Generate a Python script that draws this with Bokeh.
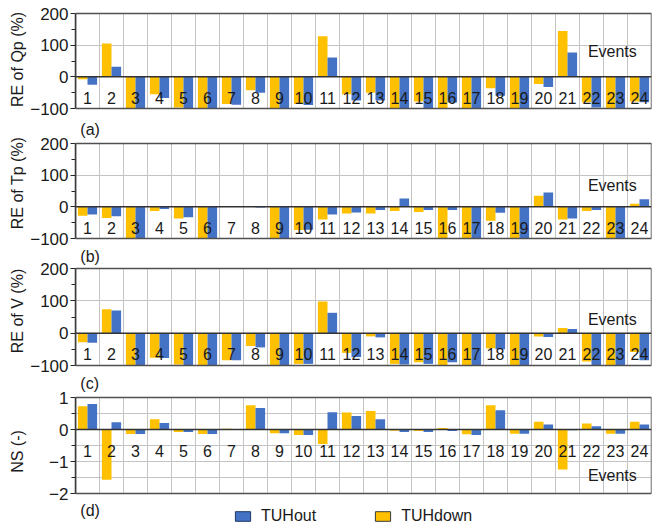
from bokeh.plotting import figure
from bokeh.layouts import column
from bokeh.models import (FixedTicker, Label, Legend, LegendItem, Span,
                          ColumnDataSource, BoxAnnotation, Range1d)
from bokeh.transform import dodge
from bokeh.core.properties import value
from bokeh.embed import file_html
from bokeh.resources import INLINE

# ---------------- data ----------------
events = list(range(1, 25))
event_labels = [str(e) for e in events]

qp_down = [-8, 105, -100, -55, -97, -100, -86, -42, -100, -86, 128, -55,
           -50, -100, -78, -100, -100, -36, -100, -23, 145, -80, -100, -78]
qp_out = [-25, 32, -100, -67, -100, -100, -88, -50, -100, -89, 61, -75,
          -75, -100, -100, -81, -100, -60, -100, -32, 77, -97, -100, -80]

tp_down = [-28, -35, -100, -13, -37, -100, 0, 0, -100, -73, -40, -21,
           -21, -13, -16, -100, -100, -44, -100, 35, -40, -13, -100, 10]
tp_out = [-24, -30, -100, -7, -33, -100, 3, -2, -100, -72, -24, -18,
          -10, 26, -10, -10, -100, -19, -100, 45, -37, -10, -100, 24]

v_down = [-28, 74, -100, -76, -97, -100, -84, -40, -100, -95, 98, -61,
          -10, -95, -90, -100, -100, -47, -100, -10, 16, -88, -100, -58]
v_out = [-30, 70, -100, -77, -100, -100, -84, -44, -100, -95, 63, -74,
         -13, -97, -95, -90, -100, -50, -100, -12, 13, -100, -100, -84]

ns_down = [0.73, -1.57, -0.14, 0.32, -0.08, -0.14, 0.02, 0.76, -0.12, -0.17, -0.45, 0.53,
           0.58, -0.04, -0.05, 0.05, -0.15, 0.76, -0.13, 0.24, -1.25, 0.19, -0.13, 0.24]
ns_out = [0.80, 0.23, -0.14, 0.20, -0.08, -0.14, 0.00, 0.67, -0.12, -0.17, 0.54, 0.42,
          0.32, -0.08, -0.08, -0.05, -0.17, 0.60, -0.13, 0.16, -0.02, 0.10, -0.13, 0.16]

series_names = ["TUHout", "TUHdown"]
panel_tags = ["(a)", "(b)", "(c)", "(d)"]
y_titles = ["RE of Qp (%)", "RE of Tp (%)", "RE of V (%)", "NS (-)"]
re_limits = (-100, 200)
re_ticks = [-100, 0, 100, 200]
re_minor = [-50, 50, 150]
re_grid = [100]
ns_limits = (-2, 1)
ns_ticks = [-2, -1, 0, 1]
ns_minor = [-1.5, -0.5, 0.5]
ns_grid = [-1.5, -1, -0.5, 0.5]

YELLOW = "#FFC000"
BLUE = "#4472C4"
GRID = "#C4C4C4"
BORDER = "#505050"
AXIS = "#262626"
TXT = "#1a1a1a"
FONT = "Liberation Sans"


def panel(down, out, limits, ytitle, ticks, minor, grid_ticks, canvas_top, canvas_h,
          box_top, box_bot, ev_page_y, tags_here, title_standoff):
    lo, hi = limits
    t, b = box_top - canvas_top, box_bot - canvas_top
    s = (hi - lo) / (b - t)

    def val(page_y):
        return hi - (page_y - box_top) * s

    p = figure(width=655, height=canvas_h, x_range=(0.5, 24.5),
               y_range=Range1d(lo - (canvas_h - b) * s, hi + t * s),
               output_backend="svg", toolbar_location=None, x_axis_location=None,
               min_border_left=75, min_border_right=4, min_border_top=0,
               min_border_bottom=0)
    p.outline_line_color = None
    p.xgrid.visible = False
    p.ygrid.ticker = FixedTicker(ticks=grid_ticks)
    p.ygrid.grid_line_color = GRID

    src = ColumnDataSource(dict(x=events, down=down, out=out, label=event_labels,
                                sep=[e + 0.5 for e in events], lo=[lo] * len(events),
                                hi=[hi] * len(events)))
    # vertical separators between events, limited to the plot box
    p.segment(x0="sep", y0="lo", x1="sep", y1="hi", source=src,
              line_color=GRID, line_width=1)
    p.vbar(x=dodge("x", -0.2, range=p.x_range), top="down", bottom=0, width=0.4,
           fill_color=YELLOW, line_color=None, source=src)
    p.vbar(x=dodge("x", 0.2, range=p.x_range), top="out", bottom=0, width=0.4,
           fill_color=BLUE, line_color=None, source=src)
    p.add_layout(Span(location=0, dimension="width", line_color="#333333", line_width=1.5))
    p.add_layout(BoxAnnotation(left=0.5, right=24.5, bottom=lo, top=hi, fill_color=None,
                               fill_alpha=0, line_color=BORDER, line_width=1.5,
                               line_alpha=1))

    p.text(x="x", y=-21 * s, text="label", source=src, text_align="center",
           text_baseline="middle", text_font=value(FONT), text_font_size="16px",
           text_color=TXT)
    p.add_layout(Label(x=21.85, y=val(ev_page_y), text="Events", text_baseline="middle",
                       text_font=FONT, text_font_size="16px", text_color=TXT))
    for tag, page_y in tags_here:
        p.add_layout(Label(x=0.7, y=val(page_y), text=tag, text_baseline="middle",
                           text_font=FONT, text_font_size="16px", text_color=TXT))

    ax = p.yaxis[0]
    ax.bounds = (lo, hi)
    ax.ticker = FixedTicker(ticks=ticks, minor_ticks=minor)
    ax.axis_label = ytitle
    ax.axis_label_text_font = FONT
    ax.axis_label_text_font_size = "16px"
    ax.axis_label_text_font_style = "normal"
    ax.axis_label_text_color = TXT
    ax.axis_label_standoff = title_standoff
    ax.major_label_text_font = FONT
    ax.major_label_text_font_size = "17px"
    ax.major_label_text_color = TXT
    ax.major_label_standoff = 2
    ax.axis_line_color = AXIS
    ax.axis_line_width = 1.5
    ax.major_tick_line_color = AXIS
    ax.minor_tick_line_color = AXIS
    ax.major_tick_out = 5
    ax.major_tick_in = 0
    ax.minor_tick_out = 4
    ax.minor_tick_in = 0
    return p, src


pa, _ = panel(qp_down, qp_out, re_limits, y_titles[0], re_ticks, re_minor, re_grid,
              0, 118, 13, 108, 51, [], 1)
pb, _ = panel(tp_down, tp_out, re_limits, y_titles[1], re_ticks, re_minor, re_grid,
              118, 129, 143, 238, 185, [(panel_tags[0], 129)], 1)
pc, _ = panel(v_down, v_out, re_limits, y_titles[2], re_ticks, re_minor, re_grid,
              247, 127, 268, 365, 319, [(panel_tags[1], 256)], 1)
pd, src_d = panel(ns_down, ns_out, ns_limits, y_titles[3], ns_ticks, ns_minor, ns_grid,
                  374, 154, 397, 493, 475, [(panel_tags[2], 383), (panel_tags[3], 510)], 20)

# hidden copies of the bars, used only to draw outlined legend swatches
leg_out = pd.vbar(x=dodge("x", 0.2, range=pd.x_range), top="out", bottom=0, width=0.4,
                  fill_color=BLUE, line_color="#203864", line_width=1, source=src_d,
                  visible=False)
leg_down = pd.vbar(x=dodge("x", -0.2, range=pd.x_range), top="down", bottom=0, width=0.4,
                   fill_color=YELLOW, line_color="#3a3a3a", line_width=1, source=src_d,
                   visible=False)
legend = Legend(items=[LegendItem(label=series_names[0], renderers=[leg_out]),
                       LegendItem(label=series_names[1], renderers=[leg_down])],
                orientation="horizontal", location=(158, 3), padding=0, margin=0,
                spacing=57, glyph_width=19, glyph_height=12, label_standoff=9,
                label_text_font=FONT, label_text_font_size="16px", label_text_color=TXT,
                label_height=16, background_fill_alpha=0, border_line_alpha=0,
                inactive_fill_alpha=0)
pd.add_layout(legend, "center")

layout = column(pa, pb, pc, pd, spacing=0)
open("out.html", "w").write(file_html(layout, INLINE))
